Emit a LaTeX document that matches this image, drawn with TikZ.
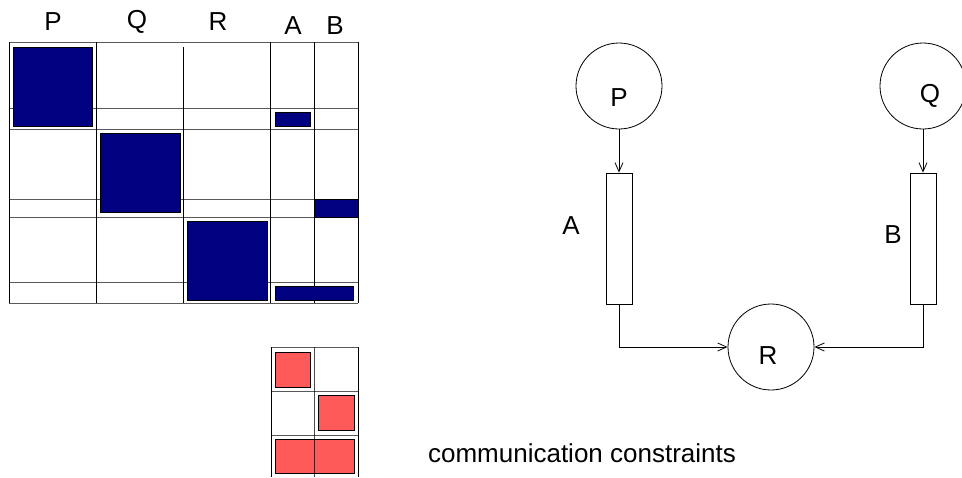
\documentclass[tikz,border=0pt]{standalone}
\usepackage{fontspec}
\setmainfont{Liberation Sans}
\usetikzlibrary{arrows.meta,calc}
\definecolor{blocknavy}{RGB}{0,0,128}
\definecolor{blockred}{RGB}{255,90,90}

\begin{document}
\begin{tikzpicture}[x=1pt,y=-1pt,
	gridline/.style={black!65,line width=1pt},
	colline/.style={black,line width=1pt},
	blk/.style={draw=black,fill=blocknavy,line width=1pt},
	cblk/.style={draw=black,fill=blockred,line width=1pt},
	proc/.style={draw,circle,minimum size=86pt,inner sep=0pt,line width=0.8pt},
	chan/.style={draw,rectangle,minimum width=26pt,minimum height=131pt,inner sep=0pt,line width=0.8pt},
	flow/.style={-{Straight Barb[length=9pt,width=8pt]},line width=0.8pt},
	lbl/.style={font=\fontsize{26}{30}\selectfont}]
	\useasboundingbox (0,0) rectangle (962,477);
	% block matrix
	\foreach \y in {42,108,129,199,217,282,303} \draw[gridline] (9,\y)--(358,\y);
	\foreach \x in {9,96,270,314,358} \draw[colline] (\x,42)--(\x,303);
	\draw[colline] (183,47)--(183,303);
	\draw[blk] (13,47) rectangle (92,126);
	\draw[blk] (100,133) rectangle (180,212);
	\draw[blk] (187,221) rectangle (267,300);
	\draw[blk] (275,112) rectangle (310,126);
	\draw[blk] (314,199) rectangle (358,217);
	\draw[blk] (275,286) rectangle (353,300);
	\node[lbl] (colP) at (53,22) {P};
	\node[lbl] (colQ) at (137,22) {Q};
	\node[lbl] (colR) at (218,22) {R};
	\node[lbl] (colA) at (293,26) {A};
	\node[lbl] (colB) at (335,26) {B};
	% constraints
	\foreach \y in {347,391,435} \draw[gridline] (271,\y)--(358,\y);
	\foreach \x in {271,358} \draw[colline] (\x,347)--(\x,477);
	\draw[cblk] (275,352) rectangle (310,387);
	\draw[cblk] (318,395) rectangle (354,430);
	\draw[cblk] (275,439) rectangle (354,473);
	\draw[black,opacity=0.7,line width=1pt] (314,347)--(314,477);
	\node[lbl] (note) at (582,453) {communication constraints};
	% process graph
	\node[proc,label={[lbl,yshift=-12pt]center:P}] (P) at (619,86) {};
	\node[proc,label={[lbl,xshift=7pt,yshift=-10pt]center:Q}] (Q) at (923,86) {};
	\node[proc,label={[lbl,xshift=-3pt,yshift=-9pt]center:R}] (R) at (771,347) {};
	\node[chan] (chA) at (619,238.5) {};
	\node[chan] (chB) at (923,238.5) {};
	\node[lbl] (labA) at (571,226) {A};
	\node[lbl] (labB) at (893,235) {B};
	\draw[flow] (P)--(chA);
	\draw[flow] (Q)--(chB);
	\draw[flow] (chA.south) |- (R);
	\draw[flow] (chB.south) |- (R);
\end{tikzpicture}
\end{document}
